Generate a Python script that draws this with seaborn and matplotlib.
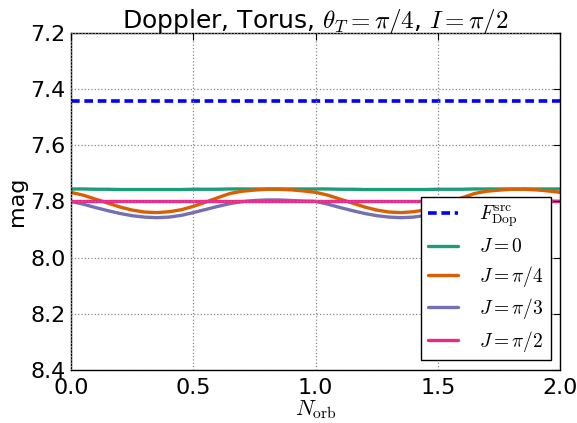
import numpy as np
import pandas as pd
import matplotlib
matplotlib.use("Agg")
import matplotlib.pyplot as plt
import seaborn as sns

# ---- data ----
n_orb = [0.00, 0.05, 0.10, 0.15, 0.20, 0.25, 0.30, 0.35, 0.40, 0.45, 0.50,
         0.55, 0.60, 0.65, 0.70, 0.75, 0.80, 0.85, 0.90, 0.95, 1.00,
         1.05, 1.10, 1.15, 1.20, 1.25, 1.30, 1.35, 1.40, 1.45, 1.50,
         1.55, 1.60, 1.65, 1.70, 1.75, 1.80, 1.85, 1.90, 1.95, 2.00]

f_dop_src = 7.445

j_0 = [7.756, 7.756, 7.757, 7.757, 7.758, 7.758, 7.758, 7.758, 7.758, 7.758, 7.757,
       7.757, 7.757, 7.756, 7.756, 7.756, 7.756, 7.756, 7.756, 7.756, 7.756,
       7.756, 7.757, 7.757, 7.758, 7.758, 7.758, 7.758, 7.758, 7.758, 7.757,
       7.757, 7.757, 7.756, 7.756, 7.756, 7.756, 7.756, 7.756, 7.756, 7.756]

j_pi4 = [7.768, 7.778, 7.792, 7.806, 7.820, 7.831, 7.838, 7.840, 7.837, 7.830, 7.818,
         7.803, 7.787, 7.772, 7.764, 7.760, 7.757, 7.757, 7.759, 7.763, 7.768,
         7.778, 7.792, 7.806, 7.820, 7.831, 7.838, 7.840, 7.837, 7.830, 7.818,
         7.803, 7.787, 7.772, 7.764, 7.760, 7.757, 7.757, 7.759, 7.763, 7.768]

j_pi3 = [7.800, 7.810, 7.822, 7.833, 7.843, 7.851, 7.856, 7.858, 7.856, 7.850, 7.840,
         7.829, 7.818, 7.808, 7.801, 7.797, 7.795, 7.795, 7.797, 7.799, 7.800,
         7.810, 7.822, 7.833, 7.843, 7.851, 7.856, 7.858, 7.856, 7.850, 7.840,
         7.829, 7.818, 7.808, 7.801, 7.797, 7.795, 7.795, 7.797, 7.799, 7.800]

j_pi2 = [7.800] * len(n_orb)

labels = [r"$F_{\rm Dop}^{\rm src}$", r"$J=0$", r"$J=\pi/4$", r"$J=\pi/3$", r"$J=\pi/2$"]
colors = ["#0000ff", "#1b9e77", "#d95f02", "#7570b3", "#e7298a"]

y_ticks = [7.2, 7.4, 7.6, 7.8, 8.0, 8.2, 8.4]
x_ticks = [0.0, 0.5, 1.0, 1.5, 2.0]

# ---- plotting ----
sns.set_style("white")
plt.rcParams["mathtext.fontset"] = "cm"
plt.rcParams["font.family"] = ["DejaVu Sans"]
plt.rcParams["text.color"] = "black"
plt.rcParams["axes.labelcolor"] = "black"
plt.rcParams["xtick.color"] = "black"
plt.rcParams["ytick.color"] = "black"

fig = plt.figure(figsize=(5.77, 4.23), dpi=100)
ax = fig.add_axes([0.123, 0.125, 0.848, 0.798])

series = [[f_dop_src] * len(n_orb), j_0, j_pi4, j_pi3, j_pi2]
for i, (vals, lab, col) in enumerate(zip(series, labels, colors)):
    df = pd.DataFrame({"x": n_orb, "y": vals})
    if i == 0:
        sns.lineplot(data=df, x="x", y="y", ax=ax, color=col, lw=2.6,
                     label=lab, dashes=False, linestyle=(0, (2.4, 1.3)))
    else:
        sns.lineplot(data=df, x="x", y="y", ax=ax, color=col, lw=2.4, label=lab)

ax.set_xlim(0, 2)
ax.set_ylim(8.4, 7.2)
ax.set_xticks(x_ticks)
ax.set_xticklabels([f"{v:.1f}" for v in x_ticks])
ax.set_yticks(y_ticks)
ax.set_yticklabels([f"{v:.1f}" for v in y_ticks])
ax.tick_params(direction="in", length=5, width=0.8, labelsize=16, top=True, right=True,
               color="black")
ax.tick_params(axis="x", pad=6)
ax.tick_params(axis="y", pad=4)
ax.set_axisbelow(False)
ax.grid(True, linestyle=":", color="#888888", linewidth=0.9)
for s in ax.spines.values():
    s.set_color("black")
    s.set_linewidth(1.0)

ax.set_xlabel(r"$N_{\rm orb}$", fontsize=16, labelpad=0)
ax.set_ylabel("mag", fontsize=16, labelpad=2)
ax.set_title(r"Doppler, Torus, $\theta_T=\pi/4$, $I=\pi/2$", fontsize=18, pad=3)

leg = ax.legend(loc="lower right", fontsize=14, fancybox=False, framealpha=1,
                edgecolor="black", handlelength=1.55, labelspacing=0.38,
                borderpad=0.35, handletextpad=1.1, borderaxespad=0.5)
leg.get_frame().set_linewidth(1.0)

fig.savefig("out.png", dpi=100)
